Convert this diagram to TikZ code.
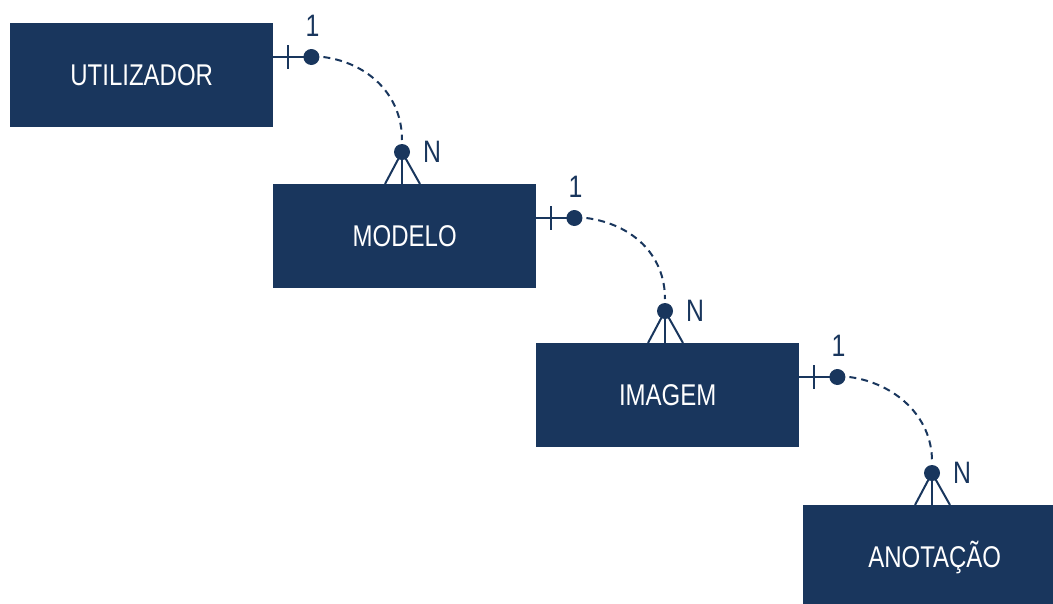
\documentclass[tikz,border=0pt]{standalone}
\usepackage{fontspec}
\setmainfont{Liberation Sans}[FakeStretch=0.8]
\usetikzlibrary{calc}
\definecolor{navy}{RGB}{25,54,93}
\begin{document}
\begin{tikzpicture}[x=1pt,y=-1pt,
  entity/.style={fill=navy, draw=none, minimum width=263pt, minimum height=104pt,
    text=white, font=\fontsize{30}{32}\selectfont, inner sep=0pt, anchor=north west},
  conn/.style={draw=navy, line width=2pt},
  rel/.style={conn, dash pattern=on 7pt off 5pt},
  card/.style={text=navy, font=\fontsize{31}{33}\selectfont, inner sep=0pt}]
\useasboundingbox (0,0) rectangle (1053,603);
\begin{scope}
\clip (0,0) rectangle (1053,603);
\node[entity] (u) at (10,23) {UTILIZADOR};
\node[entity] (m) at (273,184) {MODELO};
\node[entity] (i) at (536,343) {IMAGEM};
\node[entity] (a) at (803,505) {ANOTAÇÃO};
\end{scope}
\foreach \p/\q in {u/m, m/i, i/a} {
  \coordinate (\p s) at ($(\p.north east)+(0,34)$);
  \coordinate (\p d) at ($(\p.north east)+(38,34)$);
  \coordinate (\p t) at ($(\p.north east)+(15,34)$);
  \coordinate (\q e) at ($(\q.north west)+(129,-32)$);
  \draw[conn] (\p s) -- (\p d);
  \draw[conn] ($(\p t)+(0,-12)$) -- ($(\p t)+(0,12)$);
  \draw[rel] ($(\p d)+(12,0)$) .. controls +(45,6) and +(0,-45) .. ($(\q e)+(0,-12)$);
  \draw[conn] (\q e) -- ($(\q.north west)+(112,0)$);
  \draw[conn] (\q e) -- ($(\q.north west)+(129,0)$);
  \draw[conn] (\q e) -- ($(\q.north west)+(147,0)$);
  \fill[navy] (\p d) circle (8);
  \fill[navy] (\q e) circle (8);
  \node[card] (\p one) at ($(\p d)+(1,-31)$) {1};
  \node[card] (\q n) at ($(\q e)+(30,0)$) {N};
}
\end{tikzpicture}
\end{document}
